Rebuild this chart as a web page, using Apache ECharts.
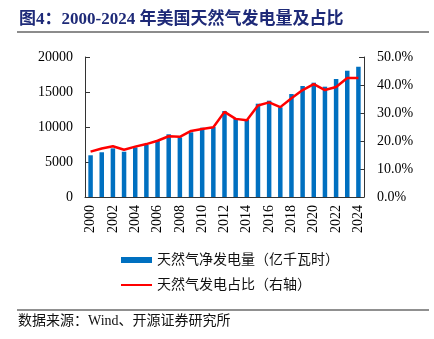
<!DOCTYPE html>
<html>
<head>
<meta charset="utf-8">
<script src="https://cdn.jsdelivr.net/npm/echarts@6/dist/echarts.min.js"></script>
<style>
  html, body { margin: 0; padding: 0; background: #fff; }
  #chart { width: 434px; height: 339px; }
</style>
</head>
<body>
<div id="chart"></div>
<script>
// Years on the category axis
const years = ['2000','2001','2002','2003','2004','2005','2006','2007','2008','2009',
  '2010','2011','2012','2013','2014','2015','2016','2017','2018','2019',
  '2020','2021','2022','2023','2024'];

// Net generation from natural gas (100 million kWh)
const gasGeneration = [5960, 6390, 6950, 6470, 7100, 7430, 8050, 8960, 8520, 9240,
  9900, 10000, 12280, 11140, 11050, 13330, 13760, 12810, 14710, 15860,
  16330, 15760, 16860, 18040, 18610];

// Share of natural gas in total generation (%)
const gasShare = [16.2, 17.3, 18.1, 16.9, 18.0, 18.9, 20.1, 21.7, 21.5, 23.6,
  24.3, 24.9, 30.4, 27.9, 27.4, 32.7, 33.8, 32.1, 35.3, 38.2,
  40.3, 38.2, 39.3, 42.5, 42.5];

const leftTicks = { min: 0, max: 20000, interval: 5000 };
const rightTicks = { min: 0, max: 50, interval: 10 };

const serif = '"Liberation Serif", "Times New Roman", "Noto Sans CJK SC", serif';
const cjk = '"Liberation Serif", "Noto Sans CJK SC", sans-serif';

// Thin centred bar inside a 31x6 legend box (outer slivers only set the bounds)
const thinLineIcon = 'path://M0,0 L31,0 L31,0.01 Z M0,2 L31,2 L31,4 L0,4 Z M0,6 L31,6 L31,5.99 Z';

const chart = echarts.init(document.getElementById('chart'), null, { renderer: 'canvas' });

chart.setOption({
  backgroundColor: '#ffffff',
  animation: false,
  title: {
    text: '图4：2000-2024 年美国天然气发电量及占比',
    left: 14,
    top: 6,
    textStyle: {
      fontFamily: cjk,
      fontSize: 17,
      fontWeight: 'bold',
      color: '#1E2A78'
    }
  },
  graphic: [
    {
      type: 'rect',
      shape: { x: 17, y: 31, width: 412, height: 2 },
      style: { fill: '#8c8c8c' }
    },
    {
      type: 'rect',
      shape: { x: 17, y: 309.5, width: 412, height: 1 },
      style: { fill: '#222' }
    },
    {
      type: 'text',
      left: 18,
      top: 314,
      style: {
        text: '数据来源：Wind、开源证券研究所',
        font: '14px ' + cjk,
        fill: '#111'
      }
    }
  ],
  legend: {
    orient: 'vertical',
    left: 116,
    top: 248,
    itemWidth: 31,
    itemHeight: 6,
    itemGap: 11,
    textStyle: { fontFamily: cjk, fontSize: 14, color: '#111' },
    data: [
      { name: '天然气净发电量（亿千瓦时）', icon: 'rect' },
      { name: '天然气发电占比（右轴）', icon: thinLineIcon }
    ]
  },
  grid: { left: 85, right: 70, top: 57, bottom: 142 },
  xAxis: {
    type: 'category',
    data: years,
    boundaryGap: true,
    axisLine: { lineStyle: { color: '#333', width: 1 } },
    axisTick: { inside: true, length: 4, interval: 1, lineStyle: { color: '#333' } },
    axisLabel: {
      interval: 1,
      rotate: 90,
      margin: 8,
      fontFamily: serif,
      fontSize: 14,
      color: '#000'
    }
  },
  yAxis: [
    {
      type: 'value',
      min: leftTicks.min,
      max: leftTicks.max,
      interval: leftTicks.interval,
      splitLine: { show: false },
      axisLine: { show: true, lineStyle: { color: '#333' } },
      axisTick: { show: true, inside: true, length: 5, lineStyle: { color: '#333' } },
      axisLabel: {
        margin: 12,
        fontFamily: serif,
        fontSize: 14,
        color: '#000',
        formatter: v => String(v)
      }
    },
    {
      type: 'value',
      position: 'right',
      min: rightTicks.min,
      max: rightTicks.max,
      interval: rightTicks.interval,
      splitLine: { show: false },
      axisLine: { show: true, lineStyle: { color: '#333' } },
      axisTick: { show: true, inside: true, length: 5, lineStyle: { color: '#333' } },
      axisLabel: {
        margin: 13,
        fontFamily: serif,
        fontSize: 14,
        color: '#000',
        formatter: v => v.toFixed(1) + '%'
      }
    }
  ],
  series: [
    {
      name: '天然气净发电量（亿千瓦时）',
      type: 'bar',
      data: gasGeneration,
      barWidth: 4.5,
      itemStyle: { color: '#0070C0' }
    },
    {
      name: '天然气发电占比（右轴）',
      type: 'line',
      yAxisIndex: 1,
      data: gasShare,
      symbol: 'none',
      lineStyle: { color: '#FF0000', width: 2.5 },
      itemStyle: { color: '#FF0000' }
    }
  ]
});
</script>
</body>
</html>
